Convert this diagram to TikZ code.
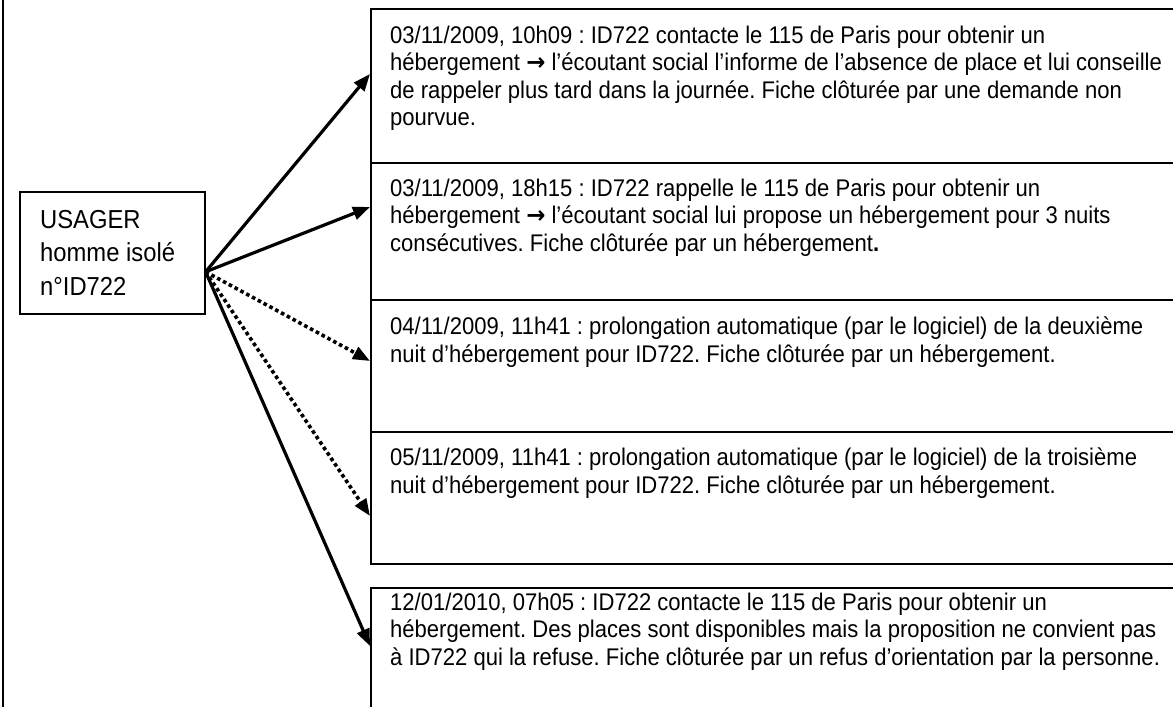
\documentclass[tikz,border=0pt]{standalone}
\usepackage{fontspec}
\setmainfont{Liberation Sans}[FakeStretch=0.915]
\newfontfamily\arrowfont{DejaVu Sans}[FakeStretch=0.95]
\usetikzlibrary{arrows.meta}
\frenchspacing
\begin{document}
\begin{tikzpicture}[x=1pt,y=-1pt,
  framebox/.style={draw=black, line width=1.6pt, rectangle, inner sep=0pt, anchor=north west},
  txt/.style={anchor=north west, inner sep=0pt, align=left, text=black,
    font=\fontsize{24.1pt}{27.2pt}\selectfont\frenchspacing},
  usertxt/.style={anchor=north west, inner sep=0pt, align=left, text=black,
    font=\fontsize{26pt}{33.5pt}\selectfont\frenchspacing},
  solidarrow/.style={line width=3.2pt, -{Triangle[length=17pt,width=13pt]}},
  dotarrow/.style={line width=3.6pt, dash pattern=on 3.6pt off 3pt, -{Triangle[length=17pt,width=13pt]}}
]
\useasboundingbox (0,0) rectangle (1173,707);
\clip (0,0) rectangle (1173,707);
\fill[white] (0,0) rectangle (1173,707);

% left frame line
\draw[line width=2pt] (2.5,-2) -- (2.5,710);

% user box
\node[framebox, minimum width=185pt, minimum height=122pt] (u) at (19,191) {};
\node[usertxt] (ut) at (40,210) {USAGER\\homme isolé\\n°ID722};

% event boxes
\node[framebox, minimum width=830pt, minimum height=154pt] (b1) at (370,8) {};
\node[framebox, minimum width=830pt, minimum height=137pt] (b2) at (370,162) {};
\node[framebox, minimum width=830pt, minimum height=132pt] (b3) at (370,299) {};
\node[framebox, minimum width=830pt, minimum height=132pt, line width=2.2pt] (b4) at (370,431) {};
\node[framebox, minimum width=830pt, minimum height=160pt, line width=2.2pt] (b5) at (370,587) {};

\node[txt] (t1) at (390,26) {03/11/2009, 10h09 : ID722 contacte le 115 de Paris pour obtenir un\\
hébergement {\arrowfont\bfseries →} l’écoutant social l’informe de l’absence de place et lui conseille\\
de rappeler plus tard dans la journée. Fiche clôturée par une demande non\\
pourvue.};
\node[txt] (t2) at (390,179) {03/11/2009, 18h15 : ID722 rappelle le 115 de Paris pour obtenir un\\
hébergement {\arrowfont\bfseries →} l’écoutant social lui propose un hébergement pour 3 nuits\\
consécutives. Fiche clôturée par un hébergement{\bfseries .}};
\node[txt] (t3) at (390,317) {04/11/2009, 11h41 : prolongation automatique (par le logiciel) de la deuxième\\
nuit d’hébergement pour ID722. Fiche clôturée par un hébergement.};
\node[txt] (t4) at (390,448) {05/11/2009, 11h41 : prolongation automatique (par le logiciel) de la troisième\\
nuit d’hébergement pour ID722. Fiche clôturée par un hébergement.};
\node[txt] (t5) at (390,593) {12/01/2010, 07h05 : ID722 contacte le 115 de Paris pour obtenir un\\
hébergement. Des places sont disponibles mais la proposition ne convient pas\\
à ID722 qui la refuse. Fiche clôturée par un refus d’orientation par la personne.};

% arrows
\coordinate (src) at ([yshift=-19pt]u.east);
\draw[solidarrow] (src) -- ([yshift=-66pt]b1.north west);
\draw[solidarrow] (src) -- ([yshift=-45pt]b2.north west);
\draw[dotarrow] (src) -- ([yshift=-62pt]b3.north west);
\draw[dotarrow] (src) -- ([yshift=-85pt]b4.north west);
\draw[solidarrow] (src) -- ([yshift=-59pt]b5.north west);
\end{tikzpicture}
\end{document}
